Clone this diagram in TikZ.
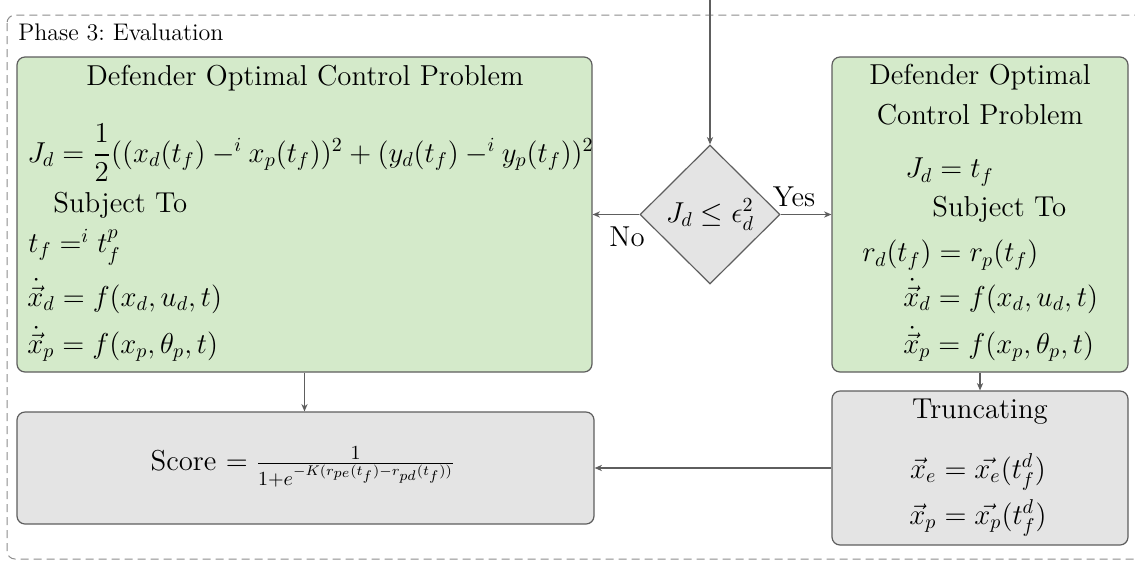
\documentclass[tikz,border=0pt]{standalone}
\usepackage{amsmath,amssymb}
\usepackage{tikz}
\usetikzlibrary{arrows.meta,positioning,fit,shapes.geometric}
\definecolor{boxgreen}{HTML}{D4EACA}
\definecolor{boxgray}{HTML}{E4E4E4}
\definecolor{edgegray}{HTML}{5E5E5E}
\tikzset{
  >={Stealth[length=1.3mm,width=1.1mm]},
  % boxes
  pbox/.style={rectangle,rounded corners=4pt,draw=edgegray,fill=boxgreen,
               line width=0.6pt,inner sep=0pt},
  tbox/.style={rectangle,rounded corners=4pt,draw=edgegray,fill=boxgray,
               line width=0.6pt,inner sep=0pt},
  dec/.style={diamond,draw=edgegray,fill=boxgray,line width=0.6pt,inner sep=0pt,
              minimum width=70pt,minimum height=69.5pt},
  % text
  tx/.style={inner sep=0pt,anchor=west,font=\Large},
  tc/.style={inner sep=0pt,font=\Large},
  yn/.style={inner sep=0pt,font=\Large},
  % connectors
  fl/.style={->,draw=edgegray,line width=0.6pt},
  frame/.style={draw=black!45,line width=0.5pt,dash pattern=on 4pt off 2.5pt,
                rounded corners=4pt},
}
\begin{document}
\begin{tikzpicture}[x=0.5pt,y=-0.5pt]
  \useasboundingbox (0,0) rectangle (1135,564);
  \clip (0,0) rectangle (1135,564);
  \draw[frame] (7,15) rectangle (1145,559);
  \node[inner sep=0pt,anchor=west,font=\large] (phase) at (18,32) {Phase 3:\ Evaluation};
  % left problem
  \node[pbox,fit={(17,57) (592,372)}] (lbox) {};
  \node[tc] (lhead) at (305,78) {Defender Optimal Control Problem};
  \node[tx] (lcost) at (27,153) {$J_d=\dfrac{1}{2}((x_d(t_f)-^i x_p(t_f))^2+(y_d(t_f)-^i y_p(t_f))^2$};
  \node[tx] (lsub) at (53,205) {Subject To};
  \node[tx] (ltf) at (28,247) {$t_f=^i t_f^p$};
  \node[tx] (ldyd) at (27,296) {$\dot{\vec{x}}_d=f(x_d,u_d,t)$};
  \node[tx] (ldyp) at (27,344) {$\dot{\vec{x}}_p=f(x_p,\theta_p,t)$};
  % right problem
  \node[pbox,fit={(832,57) (1128,372)}] (rbox) {};
  \node[tc,align=center] (rhead) at (980,95) {Defender Optimal\\[2pt]Control Problem};
  \node[tx] (rcost) at (905,172) {$J_d=t_f$};
  \node[tx] (rsub) at (932,209) {Subject To};
  \node[tx] (rterm) at (862,255) {$r_d(t_f)=r_p(t_f)$};
  \node[tx] (rdyd) at (903,296) {$\dot{\vec{x}}_d=f(x_d,u_d,t)$};
  \node[tx] (rdyp) at (903,344) {$\dot{\vec{x}}_p=f(x_p,\theta_p,t)$};
  % decision
  \node[dec,font=\Large] (check) at (710,214.5) {$J_d\leq\epsilon_d^2$};
  \node[yn] (no) at (627,237) {No};
  \node[yn] (yes) at (794,197) {Yes};
  % score and truncating
  \node[tbox,fit={(17,412) (594,524)}] (sbox) {};
  \node[tc] (score) at (303,467) {Score $=\frac{1}{1+e^{-K(r_{pe}(t_f)-r_{pd}(t_f))}}$};
  \node[tbox,fit={(832,391) (1128,545)}] (trunc) {};
  \node[tc] (thead) at (980,412) {Truncating};
  \node[tc] (txe) at (978,472) {$\vec{x}_e=\vec{x_e}(t_f^d)$};
  \node[tc] (txp) at (978,518) {$\vec{x}_p=\vec{x_p}(t_f^d)$};
  % connectors
  \coordinate (entry) at (710,0);
  \draw[fl] (entry) -- (check.north);
  \draw[fl] (check.west) -- (lbox.east |- check.west);
  \draw[fl] (check.east) -- (rbox.west |- check.east);
  \draw[fl] (lbox.south) -- (lbox.south |- sbox.north);
  \draw[fl] (rbox.south -| trunc.north) -- (trunc.north);
  \draw[fl] (trunc.west) -- (sbox.east |- trunc.west);
\end{tikzpicture}
\end{document}
